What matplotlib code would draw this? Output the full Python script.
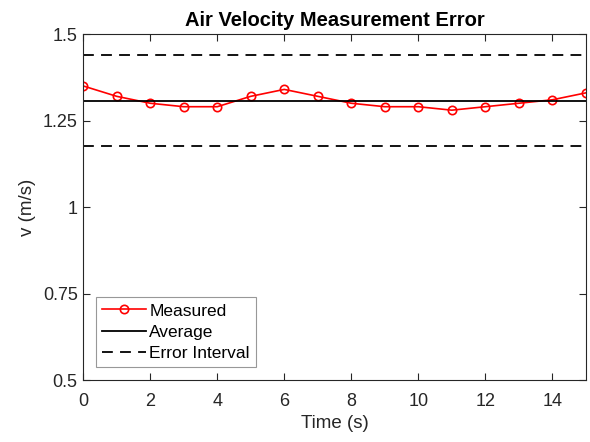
import matplotlib
matplotlib.use("Agg")
import matplotlib.pyplot as plt
import numpy as np
from matplotlib.ticker import FixedLocator, FixedFormatter

plt.rcParams['font.family'] = ['Liberation Sans', 'DejaVu Sans']

time_s = [0, 1, 2, 3, 4, 5, 6, 7, 8, 9, 10, 11, 12, 13, 14, 15]
velocity = [1.35, 1.32, 1.30, 1.29, 1.29, 1.32, 1.34, 1.32, 1.30, 1.29,
            1.29, 1.28, 1.29, 1.30, 1.31, 1.33]
error_fraction = 0.10
y_ticks = [0.5, 0.75, 1, 1.25, 1.5]
y_tick_labels = ["0.5", "0.75", "1", "1.25", "1.5"]
x_ticks = [0, 2, 4, 6, 8, 10, 12, 14]

average = float(np.mean(velocity))
upper = average * (1 + error_fraction)
lower = average * (1 - error_fraction)

axis_color = "#262626"

fig = plt.figure(figsize=(5.9, 4.42), dpi=100)
ax = fig.add_axes([0.141, 0.140, 0.852, 0.783])

ax.plot(time_s, velocity, color="red", marker="o", markersize=6,
        markerfacecolor="none", markeredgewidth=1.2, linewidth=1.2,
        label="Measured")
ax.axhline(average, color="black", linewidth=1.3, label="Average")
ax.axhline(upper, color="black", linewidth=1.3, linestyle=(0, (6, 4)),
           label="Error Interval")
ax.axhline(lower, color="black", linewidth=1.3, linestyle=(0, (6, 4)))

ax.set_xlim(0, 15)
ax.set_ylim(0.5, 1.5)
ax.xaxis.set_major_locator(FixedLocator(x_ticks))
ax.yaxis.set_major_locator(FixedLocator(y_ticks))
ax.yaxis.set_major_formatter(FixedFormatter(y_tick_labels))

ax.tick_params(direction="in", top=True, right=True, length=5, width=0.8,
               colors=axis_color, labelsize=13)
ax.tick_params(axis="x", pad=9)
ax.tick_params(axis="y", pad=4)
for spine in ax.spines.values():
    spine.set_color(axis_color)
    spine.set_linewidth(0.8)

ax.set_xlabel("Time (s)", fontsize=13.5, color=axis_color, labelpad=4)
ax.set_ylabel("v (m/s)", fontsize=13.5, color=axis_color, labelpad=5)
ax.set_title("Air Velocity Measurement Error", fontsize=14.5,
             fontweight="bold", color="black", pad=6)

leg = ax.legend(loc="lower left", fontsize=12.5, frameon=True, fancybox=False,
                edgecolor="#7f7f7f", borderpad=0.35, labelspacing=0.35,
                handlelength=2.5, handletextpad=0.2, borderaxespad=0.75)
leg.get_frame().set_linewidth(0.8)

fig.savefig("out.png", dpi=100)
